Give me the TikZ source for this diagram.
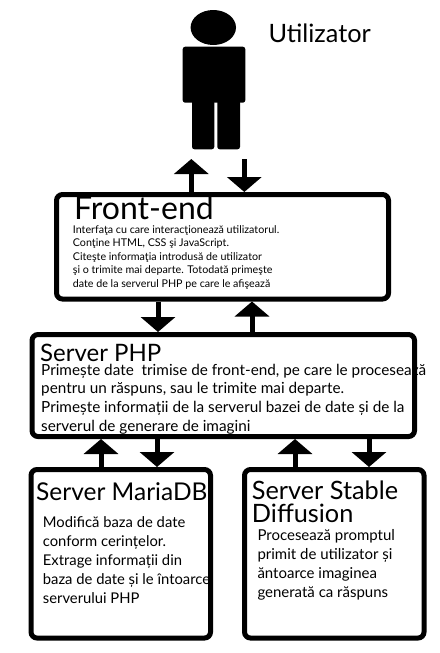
\documentclass[tikz,border=0pt]{standalone}
\usepackage{fontspec}
\setmainfont{Lato}
\usetikzlibrary{arrows.meta}

\tikzset{
  box/.style={draw=black, line width=5pt, rounded corners=6pt, inner sep=0pt},
  flowarrow/.style={line width=5pt, -{Triangle[width=34pt,length=15pt]}},
  caption/.style={anchor=base west, inner sep=0pt, align=left},
  limb/.style={fill=black, rounded corners=2.5pt},
}

\begin{document}
\begin{tikzpicture}[x=1pt,y=-1pt]
\useasboundingbox (0,0) rectangle (439,653);
\fill [white] (0,0) rectangle (439,653);

% user figure
\fill (213.3,27.5) ellipse [x radius=22.7, y radius=17.5];
\fill [limb] (182.7,46.7) rectangle (245.3,102.7);
\fill [limb] (192,100) rectangle (214.3,149.3);
\fill [limb] (217.3,100) rectangle (240,149.3);
\node [caption, font=\fontsize{25.3}{26}\selectfont] (usertitle) at (268.3,42.7) {Utilizator};

% texts go first so that the borders cut them, y is the last line's base
\node [caption, font=\fontsize{32}{32}\selectfont] (fronttitle) at (74,219.3) {Front-end};
\node [caption, font=\fontsize{10.7}{13.5}\selectfont] (fronttext) at (72.7,287.3) {Interfaţa cu care interacţionează utilizatorul.\\
Conţine HTML, CSS şi JavaScript.\\
Citeşte informaţia introdusă de utilizator\\
şi o trimite mai departe. Totodată primeşte\\
date de la serverul PHP pe care le afişează};

\node [caption, font=\fontsize{24}{24}\selectfont] (phptitle) at (40,361) {Server PHP};
\node [caption, font=\fontsize{15.3}{18.9}\selectfont] (phptext) at (41,431.7) {Primește date\ \ trimise de front-end, pe care le procesează\\
pentru un răspuns, sau le trimite mai departe.\\
Primește informații de la serverul bazei de date și de la\\
serverul de generare de imagini};

\node [caption, font=\fontsize{24.5}{24.5}\selectfont] (mariatitle) at (36,500) {Server MariaDB};
\node [caption, font=\fontsize{14.8}{18.9}\selectfont] (mariatext) at (42.7,603.3) {Modifică baza de date\\
conform cerințelor.\\
Extrage informații din\\
baza de date și le întoarce\\
serverului PHP};

\node [caption, font=\fontsize{25.3}{22.4}\selectfont] (stabletitle) at (251.7,522.3) {Server Stable\\Diffusion};
\node [caption, font=\fontsize{15}{18.9}\selectfont] (stabletext) at (257.3,597.3) {Procesează promptul\\
primit de utilizator și\\
ăntoarce imaginea\\
generată ca răspuns};

\node [box, minimum width=332pt, minimum height=104.5pt] (front) at (222.5,246.75) {};
\node [box, minimum width=382.5pt, minimum height=102pt] (php) at (223.25,385.5) {};
\node [box, minimum width=179.5pt, minimum height=168.5pt] (maria) at (120.75,553.75) {};
\node [box, minimum width=179.5pt, minimum height=168.5pt] (stable) at (334.25,553.75) {};

% free ends of the two arrows at the top
\coordinate (userup) at (191.3,159);
\coordinate (userdown) at (244.3,159);

\draw [flowarrow] (userup |- front.north) -- (userup);
\draw [flowarrow] (userdown) -- (userdown |- front.north);
\draw [flowarrow] (158,0 |- front.south) -- (158,0 |- php.north);
\draw [flowarrow] (252,0 |- php.north) -- (252,0 |- front.south);
\draw [flowarrow] (101,0 |- maria.north) -- (101,0 |- php.south);
\draw [flowarrow] (157,0 |- php.south) -- (157,0 |- maria.north);
\draw [flowarrow] (295,0 |- stable.north) -- (295,0 |- php.south);
\draw [flowarrow] (369,0 |- php.south) -- (369,0 |- stable.north);
\end{tikzpicture}
\end{document}
